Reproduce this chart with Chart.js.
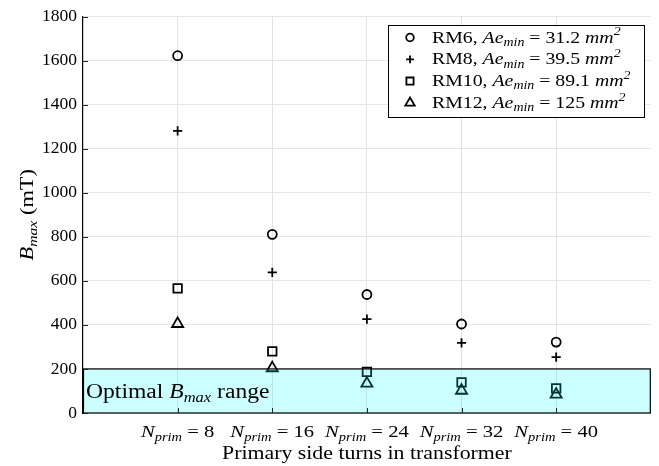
<!DOCTYPE html>
<html>
<head>
<meta charset="utf-8">
<script src="https://cdn.jsdelivr.net/npm/chart.js@4.4.1/dist/chart.umd.min.js"></script>
<style>
  html, body { margin: 0; padding: 0; background: #fff; }
</style>
</head>
<body>
<canvas id="bmaxChart" width="659" height="466"></canvas>
<script>
/* B_max vs primary turns for four RM cores */

const turns = [8, 16, 24, 32, 40];
const coreNames = ["RM6", "RM8", "RM10", "RM12"];
const coreAreas = ["31.2", "39.5", "89.1", "125"];
const markerStyles = ["circle", "cross", "rect", "triangle"];
const markerSizes = [4.5, 4.6, 6, 6.4];

const bmaxRM6 = [1622, 811, 538, 404, 322];
const bmaxRM8 = [1281, 638, 426, 318, 254];
const bmaxRM10 = [566, 280, 187, 139, 112];
const bmaxRM12 = [405, 204, 134, 102, 84];
const bmaxSeries = [bmaxRM6, bmaxRM8, bmaxRM10, bmaxRM12];

const yTicks = [0, 200, 400, 600, 800, 1000, 1200, 1400, 1600, 1800];
const optimalMax = 200;

const SERIF = '"Liberation Serif", "Times New Roman", serif';
const STRETCH = 1.18; // widen Times glyphs toward a Computer Modern look

// draws a string made of roman / italic / subscript / superscript pieces
function mathText(ctx, parts, x, y, size, align) {
  const fontOf = p => {
    const small = p[1] === "sub" || p[1] === "sup";
    const px = small ? size * 0.7 : size;
    return (p[1] === "r" ? "" : "italic ") + px.toFixed(1) + "px " + SERIF;
  };
  let w = 0;
  parts.forEach(p => { ctx.font = fontOf(p); w += ctx.measureText(p[0]).width * STRETCH; });
  let cx = align === "center" ? x - w / 2 : x;
  ctx.textAlign = "left";
  ctx.textBaseline = "alphabetic";
  ctx.fillStyle = "#000";
  parts.forEach(p => {
    ctx.font = fontOf(p);
    const dy = p[1] === "sub" ? size * 0.2 : p[1] === "sup" ? -size * 0.42 : 0;
    ctx.save();
    ctx.translate(cx, y + dy);
    ctx.scale(STRETCH, 1);
    ctx.fillText(p[0], 0, 0);
    ctx.restore();
    cx += ctx.measureText(p[0]).width * STRETCH;
  });
}

const datasets = bmaxSeries.map((vals, i) => ({
  label: coreNames[i],
  data: vals.map((v, k) => ({ x: k + 1, y: v })),
  pointStyle: markerStyles[i],
  pointRadius: markerSizes[i],
  pointHoverRadius: markerSizes[i],
  pointBorderColor: "#000",
  pointBackgroundColor: "rgba(0,0,0,0)",
  pointBorderWidth: 1.8,
  showLine: false
}));

const overlay = {
  id: "overlay",
  afterDatasetsDraw(chart) {
    const ctx = chart.ctx;
    const xs = chart.scales.x;
    const ys = chart.scales.y;
    const area = chart.chartArea;

    // optimal range band, drawn over the markers
    const yTop = ys.getPixelForValue(optimalMax);
    const yBot = ys.getPixelForValue(0);
    ctx.save();
    ctx.fillStyle = "rgba(0,255,255,0.2)";
    ctx.fillRect(area.left, yTop, area.right - area.left, yBot - yTop);
    ctx.strokeStyle = "#000";
    ctx.lineWidth = 1.2;
    ctx.strokeRect(area.left + 0.5, yTop, area.right - area.left - 1, yBot - yTop);
    ctx.restore();

    // inward tick marks
    ctx.save();
    ctx.strokeStyle = "#222";
    ctx.lineWidth = 1;
    yTicks.forEach(v => {
      const py = Math.round(ys.getPixelForValue(v)) + 0.5;
      ctx.beginPath();
      ctx.moveTo(area.left, py);
      ctx.lineTo(area.left + 5, py);
      ctx.stroke();
    });
    turns.forEach((t, k) => {
      const px = Math.round(xs.getPixelForValue(k + 1)) + 0.5;
      ctx.beginPath();
      ctx.moveTo(px, yBot);
      ctx.lineTo(px, yBot - 5);
      ctx.stroke();
    });
    ctx.restore();

    mathText(ctx, [["Optimal ", "r"], ["B", "i"], ["max", "sub"], [" range", "r"]],
      area.left + 3, yBot - 15, 20, "left");

    // x tick labels
    turns.forEach((t, k) => {
      mathText(ctx, [["N", "i"], ["prim", "sub"], [" = " + t, "r"]],
        xs.getPixelForValue(k + 1), 437, 17.5, "center");
    });

    // axis titles
    mathText(ctx, [["Primary side turns in transformer", "r"]],
      (area.left + area.right) / 2, 459, 18.5, "center");
    ctx.save();
    ctx.translate(33, (area.top + area.bottom) / 2);
    ctx.rotate(-Math.PI / 2);
    mathText(ctx, [["B", "i"], ["max", "sub"], [" (mT)", "r"]], 0, 0, 19, "center");
    ctx.restore();

    // legend
    const lx = 388, ly = 25, lw = 256, lh = 92;
    ctx.save();
    ctx.fillStyle = "#fff";
    ctx.fillRect(lx, ly, lw, lh);
    ctx.strokeStyle = "#000";
    ctx.lineWidth = 1;
    ctx.strokeRect(lx + 0.5, ly + 0.5, lw, lh);
    ctx.restore();
    coreNames.forEach((name, i) => {
      const cy = ly + 12.5 + i * 21.8;
      ctx.save();
      ctx.strokeStyle = "#000";
      ctx.fillStyle = "rgba(0,0,0,0)";
      ctx.lineWidth = 1.8;
      Chart.helpers.drawPoint(ctx, {
        pointStyle: markerStyles[i], radius: markerSizes[i] * 0.85, borderWidth: 1.8, rotation: 0
      }, 410, cy);
      ctx.restore();
      mathText(ctx, [[name + ", ", "r"], ["Ae", "i"], ["min", "sub"],
        [" = " + coreAreas[i] + " ", "r"], ["mm", "i"], ["2", "sup"]], 432, cy + 5, 16.8, "left");
    });
  }
};

new Chart(document.getElementById("bmaxChart"), {
  type: "scatter",
  data: { datasets },
  options: {
    responsive: false,
    animation: false,
    devicePixelRatio: 1,
    layout: { padding: { top: 15, right: 5, left: 0, bottom: 0 } },
    plugins: { legend: { display: false }, tooltip: { enabled: false } },
    scales: {
      x: {
        type: "linear",
        min: 0,
        max: 6,
        afterFit(scale) { scale.height = 53; },
        ticks: { display: false, stepSize: 1 },
        border: { display: false },
        grid: {
          drawTicks: false,
          color: c => (c.tick.value >= 1 && c.tick.value <= 5 ? "#e2e2e2" : "rgba(0,0,0,0)")
        }
      },
      y: {
        min: 0,
        max: 1800,
        afterFit(scale) { scale.width = 83; },
        ticks: {
          stepSize: 200,
          padding: 6,
          color: "#000",
          font: { family: SERIF, size: 17.5 },
          callback: v => String(v)
        },
        border: { color: "#000", width: 1.2 },
        grid: { drawTicks: false, color: "#e6e6e6" }
      }
    }
  },
  plugins: [overlay]
});
</script>
</body>
</html>
